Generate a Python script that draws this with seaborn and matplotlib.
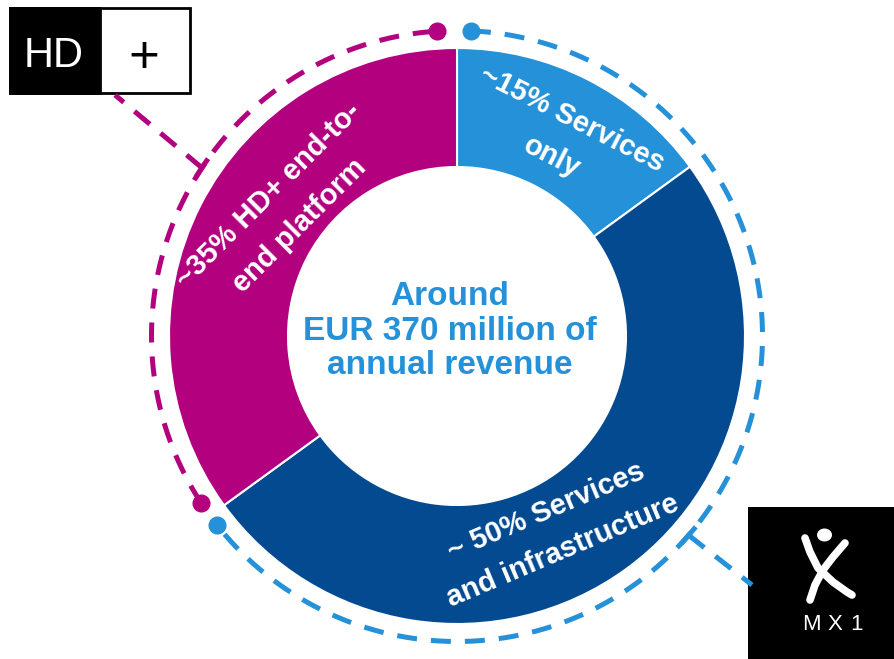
"""
Revenue split donut: HD+ platform vs. services (around EUR 370 million).
"""

import numpy as np
import matplotlib.pyplot as plt
from matplotlib.patches import Rectangle, Ellipse
import seaborn as sns

# Data
segments = ["~15% Services\nonly", "~ 50% Services\nand infrastructure", "~35% HD+ end-to-\nend platform"]
shares = [15, 50, 35]
center_text = "Around\nEUR 370 million of\nannual revenue"

# Style
sns.set_theme(style="white")
plt.rcParams["font.family"] = ["Liberation Sans", "DejaVu Sans"]
palette = sns.color_palette(["#2591D8", "#034A91", "#B2007F"])
light, dark, magenta = palette

W, H = 894, 659
fig = plt.figure(figsize=(W / 100, H / 100), dpi=100)
ax = fig.add_axes([0, 0, 1, 1])

cx, cy = 457, H - 336
r_out, r_ring, r_dash = 288, 119, 305.5

ax.pie(shares, colors=palette, startangle=90, counterclock=False,
       radius=r_out, center=(cx, cy),
       wedgeprops=dict(width=r_ring, edgecolor="white", linewidth=1.5))

# Wedge labels, set along the ring
label_ang = [62, -63.5, 144]
label_rad = [224, 218, 214]
label_rot = [-27, 23, 45]
for text, a, r, rot in zip(segments, label_ang, label_rad, label_rot):
    t = np.deg2rad(a)
    ax.text(cx + r * np.cos(t), cy + r * np.sin(t), text, rotation=rot,
            rotation_mode="anchor", ha="center", va="center", ma="center",
            color="white", fontsize=21, fontweight="bold", linespacing=1.7)

ax.text(cx - 7, cy + 5, center_text, ha="center", va="center", ma="center",
        color=light, fontsize=24, fontweight="bold", linespacing=1.15)

# Dashed brackets around the ring
bounds = 90 - np.cumsum([0] + shares) * 3.6   # 90, 36, -144, -270
dash_kw = dict(lw=3.6, dashes=(4, 2.8), dash_capstyle="butt")


def bracket(a0, a1, color):
    t = np.deg2rad(np.linspace(a0, a1, 300))
    x, y = cx + r_dash * np.cos(t), cy + r_dash * np.sin(t)
    ax.plot(x, y, color=color, **dash_kw)
    ax.plot([x[0], x[-1]], [y[0], y[-1]], "o", color=color, ms=12)


def callout(a, end, color):
    t = np.deg2rad(a)
    px, py = cx + r_dash * np.cos(t), cy + r_dash * np.sin(t)
    tx, ty = -np.sin(t), np.cos(t)
    ax.plot([px - 11 * tx, px + 11 * tx], [py - 11 * ty, py + 11 * ty],
            color=color, lw=3.6, solid_capstyle="butt")
    ax.plot([px, end[0]], [py, end[1]], color=color, **dash_kw)


bracket(bounds[2] + 360 - 2.9, bounds[3] + 360 + 3.7, magenta)
bracket(bounds[0] - 2.6, bounds[2] + 2.3, light)
callout(146.6, (115, H - 95), magenta)
callout(-40.7, (752, H - 585), light)

# HD+ logo
ax.add_patch(Rectangle((10, H - 93), 180, 85, facecolor="white", edgecolor="black", lw=2))
ax.add_patch(Rectangle((10, H - 93), 90, 85, facecolor="black", edgecolor="black", lw=2))
ax.text(54, H - 67, "HD", color="white", fontsize=30, ha="center", va="baseline")
ax.text(144, H - 53, "+", color="black", fontsize=38, ha="center", va="center_baseline")

# MX1 logo
ax.add_patch(Rectangle((748, 0), 150, H - 507, facecolor="black", lw=0))
ax.add_patch(Ellipse((824.5, H - 535), 15, 13, facecolor="white", lw=0))
ax.plot([805, 810, 818, 833, 847, 852], [H - 538, H - 552, H - 568, H - 582, H - 592, H - 595],
        color="white", lw=5.5, solid_capstyle="round")
ax.plot([845, 833, 823, 815, 810], [H - 543, H - 557, H - 570, H - 585, H - 600],
        color="white", lw=5.5, solid_capstyle="round")
for ch, x in zip("MX1", [811, 835, 857]):
    ax.text(x, H - 625, ch, color="white", fontsize=16, ha="center", va="center")

ax.set_xlim(0, W)
ax.set_ylim(0, H)
ax.set_aspect("equal")
ax.set_axis_off()

fig.savefig("out.png", dpi=100)
